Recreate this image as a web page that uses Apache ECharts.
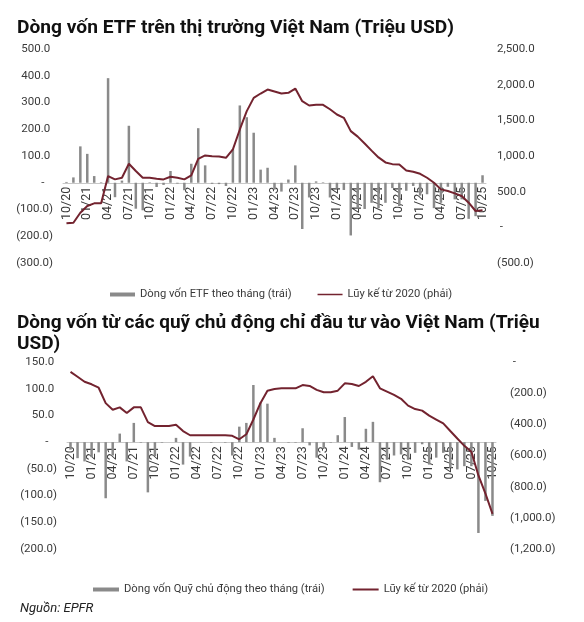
<!DOCTYPE html>
<html>
<head>
<meta charset="utf-8">
<script src="https://cdn.jsdelivr.net/npm/echarts@6/dist/echarts.min.js"></script>
<style>
html,body{margin:0;padding:0;background:#fff;}
#c{width:584px;height:622px;}
</style>
</head>
<body>
<div id="c"></div>
<script>
const months = ["10/20","11/20","12/20","01/21","02/21","03/21","04/21","05/21","06/21","07/21","08/21","09/21",
"10/21","11/21","12/21","01/22","02/22","03/22","04/22","05/22","06/22","07/22","08/22","09/22",
"10/22","11/22","12/22","01/23","02/23","03/23","04/23","05/23","06/23","07/23","08/23","09/23",
"10/23","11/23","12/23","01/24","02/24","03/24","04/24","05/24","06/24","07/24","08/24","09/24",
"10/24","11/24","12/24","01/25","02/25","03/25","04/25","05/25","06/25","07/25","08/25","09/25","10/25"];

const etfMonthly = [3,20,136,108,25,2,391,-54,8,213,-97,-103,
2,-16,-8,44,-3,-28,71,204,65,-4,-5,-12,
125,289,245,187,49,56,-25,-33,12,65,-173,-55,
5,2,-55,-22,-27,-197,-97,-98,-75,-95,-75,-20,
-87,-30,-12,-48,-43,-95,-75,-15,-62,-62,-135,-125,28];

const etfCumulative = [56,65,205,299,336,336,719,672,695,891,789,695,
695,681,672,709,695,672,728,961,1008,998,994,975,
1092,1372,1629,1815,1876,1932,1904,1876,1885,1945,1769,1708,
1717,1717,1655,1582,1535,1349,1272,1175,1075,980,910,886,
882,798,779,751,695,625,532,509,476,439,345,229,240];

const activeMonthly = [-14,-30,-36,-28,-19,-105,-25,16,-36,36,-1,-94,
-26,-1,0,8,-42,-27,0,0,-1,0,-1,-25,
29,36,107,74,72,8,0,-1,-1,26,-6,-29,
-11,-1,13,47,-9,-14,25,38,-75,-33,-25,-23,
-33,-20,-4,-42,-29,-20,-48,-51,-45,-45,-170,-110,-138];

const activeCumulative = [-63,-95,-127,-143,-165,-264,-306,-291,-327,-291,-291,-386,
-411,-411,-411,-403,-443,-470,-470,-470,-470,-470,-470,-474,
-496,-464,-369,-264,-184,-173,-169,-169,-169,-148,-154,-179,
-194,-194,-184,-137,-141,-154,-127,-91,-169,-190,-211,-236,
-280,-302,-312,-344,-369,-394,-443,-491,-538,-576,-728,-844,-975];

const title1 = "Dòng vốn ETF trên thị trường Việt Nam (Triệu USD)";
const title2 = "Dòng vốn từ các quỹ chủ động chỉ đầu tư vào Việt Nam (Triệu\nUSD)";
const source = "Nguồn: EPFR";
const nameEtf = "Dòng vốn ETF theo tháng (trái)";
const nameActive = "Dòng vốn Quỹ chủ động theo tháng (trái)";
const nameCum = "Lũy kế từ 2020 (phải)";

function fmt(v) {
  if (v === 0) return "-   ";
  const s = Math.abs(v).toLocaleString("en-US", {minimumFractionDigits: 1, maximumFractionDigits: 1});
  return v < 0 ? "(" + s + ")" : s + " ";
}
function fmtR(v) {
  if (v === 0) return " -";
  const s = Math.abs(v).toLocaleString("en-US", {minimumFractionDigits: 1, maximumFractionDigits: 1});
  return v < 0 ? "(" + s + ")" : s;
}

const BAR = "#8a8a8a";
const LINE = "#73232f";
const TXT = "#3a3a3a";
const FONT = "Roboto";
// thin line icon: invisible degenerate sub-paths keep the bounding box 0..26 x 0..4
const LINE_ICON = "path://M0,0L0.01,0Z M0,4L0.01,4Z M0,1.1L26,1.1L26,2.9L0,2.9Z";

const G1 = {left: 63, right: 98, top: 49, height: 214};
const G2 = {left: 67, right: 88, top: 362, height: 187};

function xAx(grid, g, yMin, yMax) {
  const zeroFromBottom = g.height * (0 - yMin) / (yMax - yMin);
  return {
    gridIndex: grid, type: "category", data: months, position: "bottom",
    offset: -zeroFromBottom,
    axisLine: {onZero: false, lineStyle: {color: "#c8c8c8", width: 1}},
    axisTick: {show: false},
    axisLabel: {interval: 2, rotate: 90, fontSize: 12.5, color: TXT, margin: 4, fontFamily: FONT}
  };
}
function yAx(grid, min, max, interval, pos, f, margin) {
  return {
    gridIndex: grid, type: "value", min: min, max: max, interval: interval, position: pos,
    splitLine: {show: false}, axisLine: {show: false}, axisTick: {show: false},
    axisLabel: {formatter: f, fontSize: 11.5, color: TXT, margin: margin, fontFamily: FONT}
  };
}

const chart = echarts.init(document.getElementById("c"), null, {renderer: "canvas"});
chart.setOption({
  animation: false,
  backgroundColor: "#fff",
  textStyle: {fontFamily: FONT},
  title: [
    {text: title1, left: 12, top: 14, textStyle: {fontSize: 19.2, fontWeight: "bold", color: "#111", fontFamily: FONT}},
    {text: title2, left: 12, top: 308, textStyle: {fontSize: 19, fontWeight: "bold", color: "#111", lineHeight: 21, fontFamily: FONT}},
    {text: source, left: 15, top: 597, textStyle: {fontSize: 13, fontWeight: "normal", fontStyle: "italic", color: "#222", fontFamily: FONT}}
  ],
  legend: [
    {data: [{name: nameEtf, icon: "rect"}, {name: nameCum, icon: LINE_ICON}], left: 105, top: 284,
     itemWidth: 25, itemHeight: 4, itemGap: 26,
     textStyle: {fontSize: 11.2, color: TXT, fontFamily: FONT}, selectedMode: false},
    {data: [{name: nameActive, icon: "rect"}, {name: nameCum, icon: LINE_ICON}], left: 88, top: 579,
     itemWidth: 26, itemHeight: 4, itemGap: 28,
     textStyle: {fontSize: 11.2, color: TXT, fontFamily: FONT}, selectedMode: false}
  ],
  grid: [G1, G2],
  xAxis: [xAx(0, G1, -300, 500), xAx(1, G2, -200, 150)],
  yAxis: [
    yAx(0, -300, 500, 100, "left", fmt, 10),
    yAx(0, -500, 2500, 500, "right", fmtR, 11),
    yAx(1, -200, 150, 50, "left", fmt, 10),
    yAx(1, -1200, 0, 200, "right", fmtR, 14)
  ],
  series: [
    {type: "bar", name: nameEtf, xAxisIndex: 0, yAxisIndex: 0, data: etfMonthly, barWidth: 2.5,
     itemStyle: {color: BAR}},
    {type: "line", name: nameCum, xAxisIndex: 0, yAxisIndex: 1, data: etfCumulative, symbol: "none",
     lineStyle: {color: LINE, width: 2}, itemStyle: {color: LINE}},
    {type: "bar", name: nameActive, xAxisIndex: 1, yAxisIndex: 2, data: activeMonthly, barWidth: 2.5,
     itemStyle: {color: BAR}},
    {type: "line", name: nameCum, xAxisIndex: 1, yAxisIndex: 3, data: activeCumulative, symbol: "none",
     lineStyle: {color: LINE, width: 2}, itemStyle: {color: LINE}}
  ]
});
</script>
</body>
</html>
